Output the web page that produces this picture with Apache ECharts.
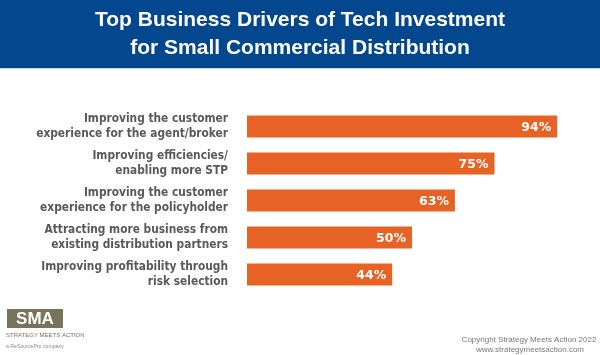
<!DOCTYPE html>
<html><head><meta charset="utf-8">
<script src="https://cdn.jsdelivr.net/npm/echarts@6/dist/echarts.min.js"></script>
<style>html,body{margin:0;padding:0;background:#fff}#c{width:600px;height:355px}</style>
</head><body><div id="c"></div>
<script>
const categories = [
  "Improving the customer\nexperience for the agent/broker",
  "Improving efficiencies/\nenabling more STP",
  "Improving the customer\nexperience for the policyholder",
  "Attracting more business from\nexisting distribution partners",
  "Improving profitability through\nrisk selection"
];
const values = [94, 75, 63, 50, 44];
const titleLines = ["Top Business Drivers of Tech Investment", "for Small Commercial Distribution"];
const footerLines = ["Copyright Strategy Meets Action 2022", "www.strategymeetsaction.com"];

const chart = echarts.init(document.getElementById('c'), null, {renderer: 'canvas'});
chart.setOption({
  animation: false,
  backgroundColor: '#fff',
  grid: {left: 247, right: 23, top: 108, height: 185, containLabel: false},
  xAxis: {type: 'value', min: 0, max: 100, show: false},
  yAxis: {
    type: 'category', inverse: true, data: categories,
    axisLine: {show: false}, axisTick: {show: false},
    axisLabel: {
      margin: 19, align: 'right', color: '#595959',
      fontFamily: '"DejaVu Sans Condensed", "DejaVu Sans"', fontWeight: 'bold', fontSize: 11.8, lineHeight: 14.5
    }
  },
  series: [{
    type: 'bar', data: values, barWidth: 22,
    itemStyle: {color: '#e66225'},
    label: {
      show: true, position: 'insideRight', offset: [-1, 1],
      formatter: '{c}%', color: '#fff',
      fontFamily: 'DejaVu Sans', fontWeight: 'bold', fontSize: 12.5
    }
  }],
  graphic: [
    {type: 'rect', shape: {x: 0, y: 0, width: 600, height: 68}, style: {fill: '#03488f'}, z: 0},
    {type: 'rect', shape: {x: 0, y: 68, width: 600, height: 1}, style: {fill: '#c9d6e6'}},
    {type: 'text', x: 300, y: 20, style: {text: titleLines[0], fill: '#fff', font: 'bold 21px "Liberation Sans", Arial, sans-serif', align: 'center', verticalAlign: 'middle'}},
    {type: 'text', x: 300, y: 48, style: {text: titleLines[1], fill: '#fff', font: 'bold 21px "Liberation Sans", Arial, sans-serif', align: 'center', verticalAlign: 'middle'}},
    {type: 'text', x: 529, y: 340, style: {text: footerLines[0], fill: '#777', font: '8px "Liberation Sans", Arial, sans-serif', align: 'center', verticalAlign: 'middle'}},
    {type: 'text', x: 530, y: 350, style: {text: footerLines[1], fill: '#777', font: '8px "Liberation Sans", Arial, sans-serif', align: 'center', verticalAlign: 'middle'}},
    {type: 'rect', shape: {x: 7, y: 309, width: 56, height: 19}, style: {fill: '#77735c'}},
    {type: 'text', x: 35, y: 319, style: {text: 'SMA', fill: '#fff', font: 'bold 17px "Liberation Sans", Arial, sans-serif', align: 'center', verticalAlign: 'middle'}},
    {type: 'text', x: 6, y: 335, style: {text: 'STRATEGY MEETS ACTION', fill: '#77735c', font: '6px "Liberation Sans Narrow", "Liberation Sans", Arial, sans-serif', align: 'left', verticalAlign: 'middle'}},
    {type: 'text', x: 6, y: 347, style: {text: 'a ReSourcePro company', fill: '#888', font: '5.2px "Liberation Sans", Arial, sans-serif', align: 'left', verticalAlign: 'middle'}}
  ]
});
</script></body></html>
